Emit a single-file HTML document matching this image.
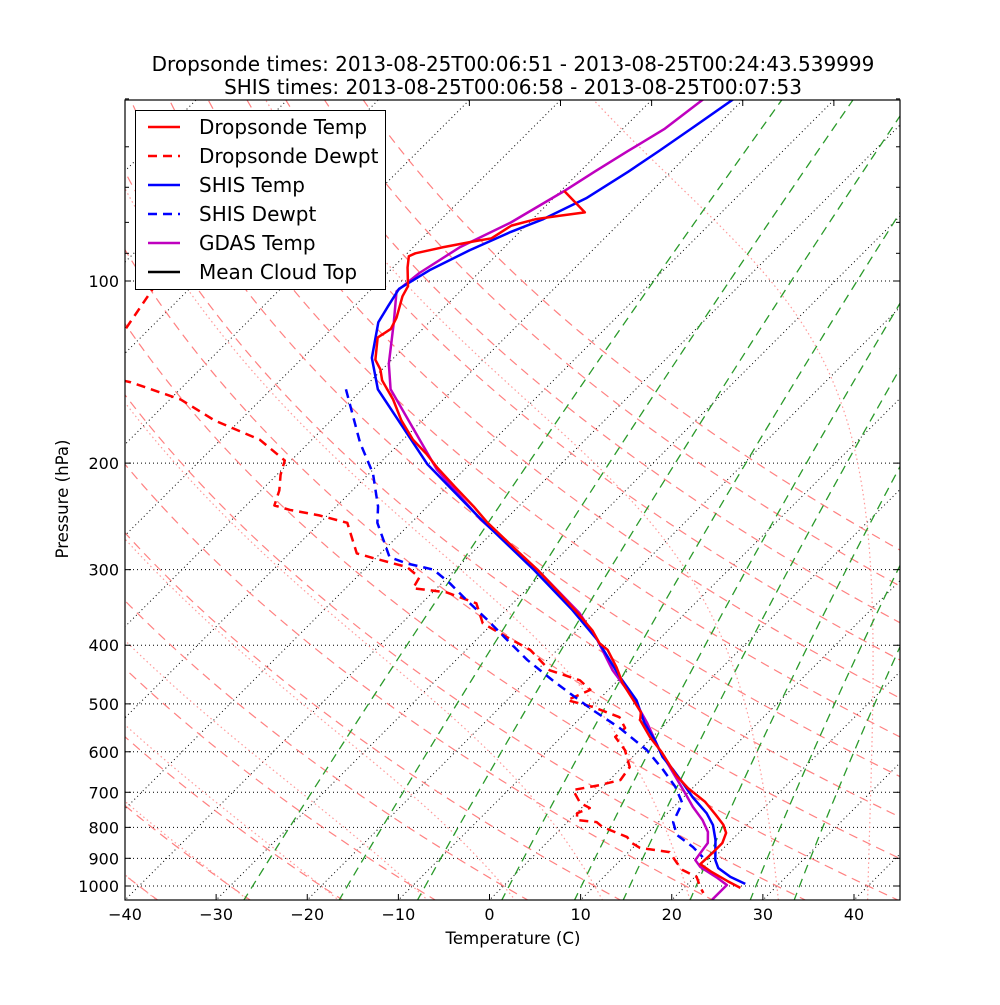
<!DOCTYPE html>
<html><head><meta charset="utf-8">
<style>
html,body{margin:0;padding:0;background:#fff;}
svg text{font-family:"DejaVu Sans","Liberation Sans",sans-serif;}
</style></head>
<body>
<svg id="chart" width="1000" height="1000" viewBox="0 0 1000 1000" xmlns="http://www.w3.org/2000/svg">
<defs><clipPath id="plotclip"><rect x="125" y="100" width="775" height="800"/></clipPath></defs>
<rect width="1000" height="1000" fill="#fff"/>
<text x="513" y="71" font-size="20" text-anchor="middle">Dropsonde times: 2013-08-25T00:06:51 - 2013-08-25T00:24:43.539999</text>
<text x="513" y="94" font-size="20" text-anchor="middle">SHIS times: 2013-08-25T00:06:58 - 2013-08-25T00:07:53</text>
<g id="bg" clip-path="url(#plotclip)"></g>
<g id="series" clip-path="url(#plotclip)"></g>
<g id="axes"></g>
<text x="513" y="944" font-size="16.6" text-anchor="middle">Temperature (C)</text>
<text x="0" y="0" font-size="16.6" text-anchor="middle" transform="translate(68,499) rotate(-90)">Pressure (hPa)</text>
<g id="legend"></g>
</svg>
<script>
// ---- data ----
const dropTempP = [1007,981,948,920,882,849,817,792,763,726,689,655,600,567,532,516,462,435,407,397,378,354,328,300,275,251,236,219,203,193,183,170,157,146,140,135,124,120,115,106,102,95,91,90,88,86,85,81,79,78,77,71];
const dropTempT = [26.2,24.0,21.3,19.2,19.3,19.3,18.6,17.4,15.5,12.9,9.5,6.7,2.6,-0.3,-3.2,-4.0,-9.2,-11.6,-14.5,-16.1,-18.3,-21.8,-26.0,-31.0,-36.2,-41.6,-44.9,-49.1,-53.3,-55.9,-58.9,-62.3,-65.5,-68.8,-70.2,-71.8,-74.0,-73.5,-74.1,-75.8,-76.3,-78.4,-79.5,-79.1,-76.8,-74.0,-72.4,-71.6,-69.6,-67.4,-65.0,-69.6];
const dropDewP = [101,120,135,147,157,170,183,198,209,222,235,239,244,251,282,287,297,309,322,327,341,368,388,407,440,457,474,493,506,526,548,567,596,636,668,681,694,729,743,758,778,784,799,830,846,865,879,916,941,966,1004,1027];
const dropDewT = [-104.2,-102.6,-110,-96.2,-88.8,-82.8,-75.7,-70.7,-69.6,-68.0,-66.9,-64.7,-60.9,-57.0,-52.6,-50.3,-45.6,-43.1,-42.6,-38.5,-34.0,-31.1,-26.9,-23.0,-18.6,-14.2,-12.0,-13.4,-9.8,-5.8,-4.0,-4.1,-1.6,0.8,1.2,-0.5,-2.9,-0.7,0.9,0.1,0.8,3.2,4.4,8.2,9.1,10.8,14.5,16.5,17.9,20.2,21.7,22.7];
const shisTempP = [992,966,934,906,839,793,758,713,676,643,612,574,538,493,451,392,350,300,246,201,151,134,117,110,103,96,89,83,79,73,66,61,56,50];
const shisTempT = [26.3,23.9,21.6,20.4,18.2,16.3,14.3,11.0,8.4,5.9,3.3,0.6,-2.4,-5.8,-10.2,-16.7,-22.7,-31.4,-43.1,-54.6,-68.3,-72.4,-75.6,-76.3,-77.0,-75.7,-73.5,-71.0,-68.8,-66.4,-64.7,-63.6,-62.5,-61.1];
const shisDewP = [151,185,208,236,251,286,293,300,316,337,363,392,423,457,480,512,548,596,643,686,729,784,823,862,896];
const shisDewT = [-71.8,-64.4,-59.6,-55.4,-53.7,-48.6,-46.0,-42.4,-39.1,-35.4,-31.0,-26.6,-22.2,-17.2,-13.9,-9.5,-4.6,0.8,4.8,8.0,10.5,11.6,13.4,16.5,18.7];
const gdasTempP = [1054,996,970,930,906,872,849,814,778,740,694,650,596,538,489,440,392,354,300,248,205,151,137,117,104,97,88,80,71,66,61,56,50];
const gdasTempT = [24.4,24.4,22.6,19.5,18.2,17.9,17.7,16.5,14.6,12.1,9.2,6.2,2.2,-2.1,-6.4,-11.7,-16.7,-21.6,-31.0,-42.7,-53.0,-66.9,-69.9,-73.9,-77.0,-76.5,-74.9,-72.0,-69.6,-68.4,-67.0,-65.4,-64.4];
const xTicks = [-40,-30,-20,-10,0,10,20,30,40];
const pTicks = [100,200,300,400,500,600,700,800,900,1000];
const pMinor = [50,60,70,80,90];
const dryAdiabatsC = [-40,-30,-20,-10,0,10,20,30,40,50,60,70,80,90,100,110,120,130];
const moistAdiabatsC = [-40,-30,-20,-10,0,10,20,30,40];
const mixingRatios = [0.0004,0.001,0.002,0.004,0.007,0.01,0.016,0.024,0.032];
const legendLabels = ["Dropsonde Temp","Dropsonde Dewpt","SHIS Temp","SHIS Dewpt","GDAS Temp","Mean Cloud Top"];

// ---- axis functions ----
const NS="http://www.w3.org/2000/svg";
function yP(p){return 886 - 605*Math.log10(1000/p);}
function xT(T,p){const y=yP(p);return 125+(T+40)*9.1125+(900-y);}
function mk(tag,attrs,parent){const e=document.createElementNS(NS,tag);for(const k in attrs)e.setAttribute(k,attrs[k]);parent.appendChild(e);return e;}
function pathFrom(Ts,Ps){let d="";for(let i=0;i<Ts.length;i++){d+=(i?"L":"M")+xT(Ts[i],Ps[i]).toFixed(2)+","+yP(Ps[i]).toFixed(2);}return d;}
const bg=document.getElementById('bg'),ser=document.getElementById('series'),ax=document.getElementById('axes'),lg=document.getElementById('legend');
const pGrid=[];for(let lp=Math.log(1060);lp>=Math.log(48);lp-=0.02)pGrid.push(Math.exp(lp));

// isotherms
for(let T=-130;T<=50;T+=10){
  const l=mk('line',{x1:xT(T,1060),y1:yP(1060),x2:xT(T,45),y2:yP(45),stroke:'#000','stroke-width':1,'stroke-dasharray':'1,3'},bg);
  
  
}
// pressure grid
pTicks.forEach(p=>{
  const l=mk('line',{x1:125,y1:yP(p),x2:900,y2:yP(p),stroke:'#000','stroke-width':1,'stroke-dasharray':'1,3'},bg);
  
  
});
// dry adiabats
dryAdiabatsC.forEach(t0=>{
  const th=t0+273.15;const Ts=pGrid.map(p=>th*Math.pow(p/1000,0.2857)-273.15);
  const e=mk('path',{d:pathFrom(Ts,pGrid),fill:'none',stroke:'#ff8080','stroke-width':1.2,'stroke-dasharray':'9,6'},bg);
  
  
});
// moist adiabats
const LK=0.9;
function dTdlnp(p,T){const es=6.112*Math.exp(17.67*(T-273.15)/(T-29.65));const rs=LK*0.622*es/Math.max(p-es,1);
  return (287*T+2.5e6*rs)/(1005+2.5e6*2.5e6*rs*0.622/(287*T*T));}
moistAdiabatsC.forEach(t0=>{
  const pts=[];let T=t0+273.15,lp=Math.log(1000);
  pts.push([1000,T]);
  while(lp>Math.log(45)){const h=-0.01;const p=Math.exp(lp);
    const k1=dTdlnp(p,T),k2=dTdlnp(Math.exp(lp+h/2),T+h/2*k1),k3=dTdlnp(Math.exp(lp+h/2),T+h/2*k2),k4=dTdlnp(Math.exp(lp+h),T+h*k3);
    T+=h/6*(k1+2*k2+2*k3+k4);lp+=h;pts.push([Math.exp(lp),T]);}
  T=t0+273.15;lp=Math.log(1000);const low=[];
  while(lp<Math.log(1070)){const h=0.01;const p=Math.exp(lp);T+=h*dTdlnp(p,T);lp+=h;low.push([Math.exp(lp),T]);}
  const all=low.reverse().concat(pts);
  const e=mk('path',{d:pathFrom(all.map(a=>a[1]-273.15),all.map(a=>a[0])),fill:'none',stroke:'#ff9999','stroke-width':1.2,'stroke-dasharray':'1.5,3'},bg);
  
  
});
// mixing lines
mixingRatios.forEach(w=>{
  const Ts=pGrid.map(p=>{const e=w*p/(0.622+w);const a=Math.log(e/6.112);return 243.5*a/(17.67-a);});
  const e=mk('path',{d:pathFrom(Ts,pGrid),fill:'none',stroke:'#2a9a2a','stroke-width':1.3,'stroke-dasharray':'9,6'},bg);
  
  
});
// series
function series(Ts,Ps,color,dash,name){
  const a={d:pathFrom(Ts,Ps),fill:'none',stroke:color,'stroke-width':2.5,'stroke-linejoin':'round'};
  if(dash)a['stroke-dasharray']='9,6';
  const e=mk('path',a,ser);
  
  
}
series(dropDewT,dropDewP,'#ff0000',true,'dropsonde-dewpoint-line');
series(shisDewT,shisDewP,'#0000ff',true,'shis-dewpoint-line');
series(gdasTempT,gdasTempP,'#bf00bf',false,'gdas-temp-line');
series(shisTempT,shisTempP,'#0000ff',false,'shis-temp-line');
series(dropTempT,dropTempP,'#ff0000',false,'dropsonde-temp-line');

// axes frame
const fr=mk('rect',{x:125,y:100,width:775,height:800,fill:'none',stroke:'#000','stroke-width':1.2},ax);


xTicks.forEach(T=>{
  const x=125+(T+40)*9.1125;
  mk('line',{x1:x,y1:900,x2:x,y2:894,stroke:'#000'},ax);
  const t=mk('text',{x:x,y:920,'font-size':16,'text-anchor':'middle'},ax);
  t.textContent=(T<0?'\u2212':'')+Math.abs(T);
  
  
  const xt=x+800;if(xt<=900)mk('line',{x1:xt,y1:100,x2:xt,y2:106,stroke:'#000'},ax);
});
for(let T=-90;T<-40;T+=10){const xt=125+(T+40)*9.1125+800;if(xt>125&&xt<=900)mk('line',{x1:xt,y1:100,x2:xt,y2:106,stroke:'#000'},ax);}
pTicks.forEach(p=>{
  const y=yP(p);
  mk('line',{x1:125,y1:y,x2:131,y2:y,stroke:'#000'},ax);
  mk('line',{x1:900,y1:y,x2:894,y2:y,stroke:'#000'},ax);
  const t=mk('text',{x:119,y:y+6,'font-size':16,'text-anchor':'end'},ax);
  t.textContent=p;
  
  
});
pMinor.forEach(p=>{const y=yP(p);mk('line',{x1:125,y1:y,x2:129,y2:y,stroke:'#000'},ax);mk('line',{x1:900,y1:y,x2:896,y2:y,stroke:'#000'},ax);});

// legend
const lb=mk('rect',{x:135.5,y:110.5,width:250,height:179,fill:'#fff',stroke:'#000','stroke-width':1},lg);


const lcol=['#ff0000','#ff0000','#0000ff','#0000ff','#bf00bf','#000000'];
const ldash=[false,true,false,true,false,false];
legendLabels.forEach((s,i)=>{
  const y=127+i*29;
  const a={x1:148,y1:y,x2:180,y2:y,stroke:lcol[i],'stroke-width':2.5};
  if(ldash[i])a['stroke-dasharray']='9,6';
  const l=mk('line',a,lg);
  
  
  const t=mk('text',{x:199,y:y+7,'font-size':20},lg);
  t.textContent=s;
  
  
});
</script>
</body></html>
